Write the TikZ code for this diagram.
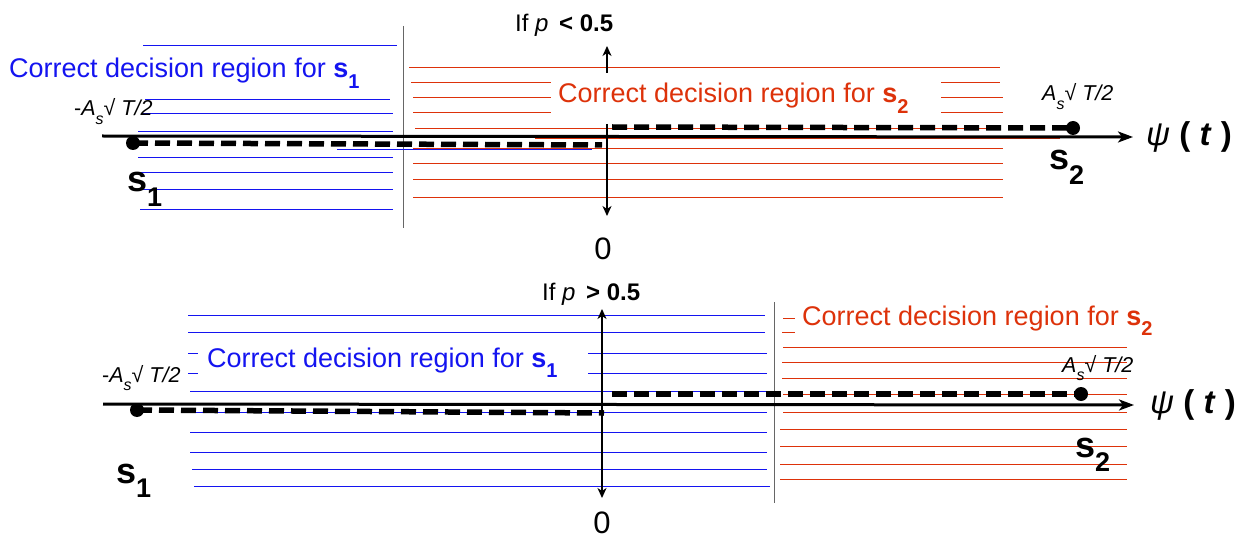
\documentclass[tikz,border=0pt]{standalone}
\usepackage{fontspec}
\setmainfont{Liberation Sans}
\usetikzlibrary{arrows.meta}
\definecolor{rblue}{RGB}{20,20,240}
\definecolor{rred}{RGB}{221,50,10}
\newcommand{\fs}[1]{\fontsize{#1}{#1}\selectfont}
\newcommand{\lowsub}[2]{\raisebox{-0.4em}{\fs{#1}#2}}
\newcommand{\asq}{\textit{A\lowsub{16}{s}}√ \textit{T/2}}
\begin{document}
\begin{tikzpicture}[x=1pt,y=-1pt,
  bl/.style={rblue, line width=0.9pt},
  rl/.style={rred, line width=0.9pt},
  axisline/.style={line width=3pt, -{Stealth[length=15pt,width=11pt,inset=4pt]}},
  sigdash/.style={line width=5.5pt, dash pattern=on 15pt off 7pt},
  sigdot/.style={circle, fill=black, inner sep=0pt, minimum size=14pt},
  varrow/.style={line width=1.5pt, -{Stealth[length=10pt,width=9pt,inset=3pt]}},
  gline/.style={gray!80!black, line width=1pt},
  regtext/.style={font=\fs{27}, inner sep=0pt, anchor=base west},
  small/.style={font=\fs{21.5}, inner sep=0pt, anchor=base west},
  ptext/.style={font=\fs{24}, inner sep=0pt, anchor=base west},
  zero/.style={font=\fs{31}, inner sep=0pt, anchor=base},
  sig/.style={font=\fs{36}\bfseries, inner sep=0pt, anchor=base west},
  psit/.style={font=\fs{33}, inner sep=0pt, anchor=west}]
\useasboundingbox (0,0) rectangle (1253,540);
% ---------------- top panel ----------------
\draw[gline] (403,26) -- (403,228);
\foreach \y/\a/\b in {45/143/397, 99/145/390, 113/143/393, 131/138/393, 149/337/592,
  157/138/393, 172/138/393, 189/140/393, 209/140/393}
  \draw[bl] (\a,\y) -- (\b,\y);
\foreach \y/\a/\b in {67/409/1000, 82/411/551, 82/941/1000, 97/413/551, 97/941/1003,
  112/413/551, 112/941/1003, 128/415/1000, 138/535/1060, 148/413/1003,
  163/413/1003, 179/413/1003, 197/413/1003}
  \draw[rl] (\a,\y) -- (\b,\y);
\coordinate (a1s) at (102,136);
\coordinate (a1e) at (1133,137);
\draw[axisline] (a1s) -- (a1e);
\node[sigdot] (d11) at (133,143) {};
\node[sigdot] (d12) at (1073,128) {};
\coordinate (m11) at (602,145);
\coordinate (m12) at (612,127);
\draw[sigdash] (d11.center) -- (m11);
\draw[sigdash] (m12) -- (d12.center);
\coordinate (v1a) at (607,73);
\coordinate (v1b) at (607,46);
\coordinate (v1c) at (607,124);
\coordinate (v1d) at (607,216);
\draw[varrow] (v1a) -- (v1b);
\draw[varrow] (v1c) -- (v1d);
\node[regtext, text=rblue] (t11) at (9,78) {Correct decision region for \textbf{s\lowsub{20}{1}}};
\node[regtext, text=rred] (t12) at (558,103) {Correct decision region for \textbf{s\lowsub{20}{2}}};
\node[ptext] (p1) at (515,32) {If \textit{p}\, \textbf{< 0.5}};
\node[zero] (z1) at (603,259) {0};
\node[small] (l11) at (74,116) {-\asq};
\node[small] (l12) at (1042,101) {\asq};
\node[sig] (s11) at (127,192) {s\lowsub{27}{1}};
\node[sig] (s12) at (1049,170) {s\lowsub{27}{2}};
\node[psit] (psi1) at (1146,137) {\textit{ψ} \textbf{(} \textbf{\textit{t}} \textbf{)}};
% ---------------- bottom panel ----------------
\draw[gline] (774,302) -- (774,503);
\foreach \y/\a/\b in {315/188/765, 332/188/765, 353/188/198, 353/588/767, 373/188/198,
  373/588/767, 391/190/767, 412/190/767, 432/190/767, 452/190/767, 469/192/767, 486/194/770}
  \draw[bl] (\a,\y) -- (\b,\y);
\foreach \y/\a/\b in {318/783/795, 332/782/795, 347/783/1127, 362/782/1127, 378/782/1127,
  394/783/1127, 412/783/1127, 429/780/1127, 446/780/1127, 464/780/1127, 479/780/1127}
  \draw[rl] (\a,\y) -- (\b,\y);
\coordinate (a2s) at (103,404);
\coordinate (a2e) at (1134,405);
\draw[axisline] (a2s) -- (a2e);
\node[sigdot] (d21) at (137,410) {};
\node[sigdot] (d22) at (1081,394) {};
\coordinate (m21) at (604,413);
\coordinate (m22) at (612,394);
\draw[sigdash] (d21.center) -- (m21);
\draw[sigdash] (m22) -- (d22.center);
\coordinate (v2a) at (602,309);
\coordinate (v2b) at (602,498);
\draw[varrow, {Stealth[length=10pt,width=9pt,inset=3pt]}-{Stealth[length=10pt,width=9pt,inset=3pt]}] (v2a) -- (v2b);
\node[regtext, text=rblue] (t21) at (207,367) {Correct decision region for \textbf{s\lowsub{20}{1}}};
\node[regtext, text=rred] (t22) at (802,325) {Correct decision region for \textbf{s\lowsub{20}{2}}};
\node[ptext] (p2) at (542,300) {If \textit{p}\, \textbf{> 0.5}};
\node[zero] (z2) at (602,533) {0};
\node[small] (l21) at (102,382) {-\asq};
\node[small] (l22) at (1062,372) {\asq};
\node[sig] (s21) at (116,483) {s\lowsub{27}{1}};
\node[sig] (s22) at (1075,457) {s\lowsub{27}{2}};
\node[psit] (psi2) at (1150,405) {\textit{ψ} \textbf{(} \textbf{\textit{t}} \textbf{)}};
\end{tikzpicture}
\end{document}
